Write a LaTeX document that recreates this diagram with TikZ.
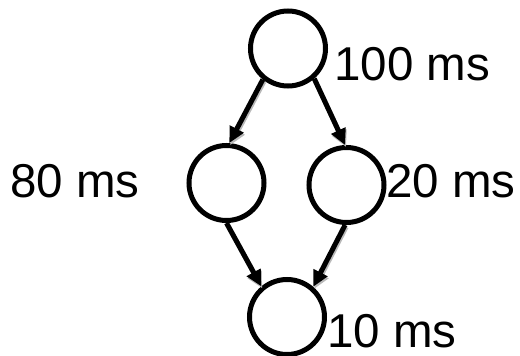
\documentclass[tikz,border=0pt]{standalone}
\usepackage{fontspec}
\setmainfont{Liberation Sans}
\usetikzlibrary{arrows.meta}
\begin{document}
\begin{tikzpicture}[x=1pt,y=-1pt,
  task/.style={circle,draw=black,line width=5pt,minimum size=75pt,inner sep=0pt},
  tip/.style={-{Triangle[length=16pt,width=15pt]}},
  dep/.style={line width=5pt,tip,
    preaction={draw=gray!55,line width=5pt,tip,
      transform canvas={shift={(1pt,-2pt)}}}},
  lbl/.style={inner sep=0pt,anchor=base west,font=\fontsize{47.5}{56}\selectfont}]
  \useasboundingbox (0,0) rectangle (520,356);
  % task nodes
  \node[task] (top) at (288,48.5) {};
  \node[task] (left) at (226.5,183) {};
  \node[task] (right) at (346.5,185) {};
  \node[task] (bottom) at (287,317) {};
  % dependencies
  \draw[dep] (top.231) -- (left.86);
  \draw[dep] (top.311) -- (right.92);
  \draw[dep] (left.270) -- (bottom.130);
  \draw[dep] (right.268) -- (bottom.49);
  % durations
  \node[lbl] (t1) at (334,80) {100 ms};
  \node[lbl] (t2) at (10,197) {80 ms};
  \node[lbl] (t3) at (386,197) {20 ms};
  \node[lbl] (t4) at (327,347.5) {10 ms};
\end{tikzpicture}
\end{document}
